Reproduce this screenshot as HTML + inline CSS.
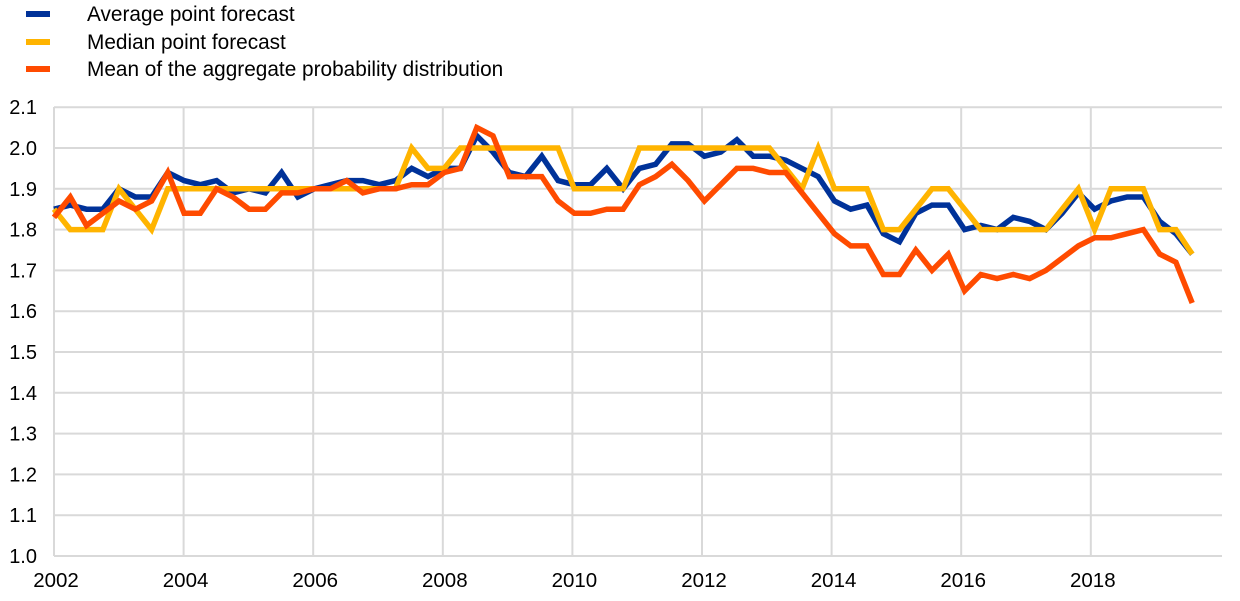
<!DOCTYPE html>
<html><head><meta charset="utf-8"><style>
html,body{margin:0;padding:0;background:#fff;}
svg{display:block;font-family:"Liberation Sans",Arial,sans-serif;}
</style></head><body>
<svg id="c" width="1240" height="601" viewBox="0 0 1240 601" xmlns="http://www.w3.org/2000/svg">
<g id="grid"></g>
<g id="lines" fill="none" stroke-width="5.5" stroke-linejoin="miter" stroke-miterlimit="3"></g>
<g font-size="20.8" fill="#000">
<line x1="26" y1="14" x2="50" y2="14" stroke="#003299" stroke-width="6"/>
<text x="87" y="21">Average point forecast</text>
<line x1="26" y1="42" x2="50" y2="42" stroke="#ffb400" stroke-width="6"/>
<text x="87" y="49">Median point forecast</text>
<line x1="26" y1="69" x2="50" y2="69" stroke="#ff4b00" stroke-width="6"/>
<text x="87" y="76">Mean of the aggregate probability distribution</text>
</g>
</svg>
<script>
var X0=54,DX=16.26,Y0=556,PY=40.8;
function xy(i,v){return (X0+DX*i).toFixed(1)+","+(Y0-(v-1)*10*PY).toFixed(1);}
var g=document.getElementById('grid'),s='';
for(var k=0;k<=11;k++){var y=Y0-k*PY;
 s+='<line x1="54" x2="1222" y1="'+y+'" y2="'+y+'" stroke="#d9d9d9" stroke-width="2"/>';
 s+='<text x="37" y="'+(y+7)+'" font-size="20" text-anchor="end">'+(1+k/10).toFixed(1)+'</text>';}
for(var yr=2002;yr<=2018;yr+=2){var x=54+(yr-2002)*64.8;
 s+='<line x1="'+x+'" x2="'+x+'" y1="107" y2="556" stroke="#d9d9d9" stroke-width="2"/>';
 s+='<text x="'+(x+2)+'" y="587" font-size="20.5" text-anchor="middle">'+yr+'</text>';}
g.innerHTML=s;
var avg=[1.85,1.86,1.85,1.85,1.90,1.88,1.88,1.94,1.92,1.91,1.92,1.89,1.90,1.89,1.94,1.88,1.90,1.91,1.92,1.92,1.91,1.92,1.95,1.93,1.95,1.95,2.03,1.99,1.94,1.93,1.98,1.92,1.91,1.91,1.95,1.90,1.95,1.96,2.01,2.01,1.98,1.99,2.02,1.98,1.98,1.97,1.95,1.93,1.87,1.85,1.86,1.79,1.77,1.84,1.86,1.86,1.80,1.81,1.80,1.83,1.82,1.80,1.84,1.89,1.85,1.87,1.88,1.88,1.82,1.79,1.74];
var med=[1.85,1.80,1.80,1.80,1.90,1.85,1.80,1.90,1.90,1.90,1.90,1.90,1.90,1.90,1.90,1.90,1.90,1.90,1.90,1.90,1.90,1.90,2.00,1.95,1.95,2.00,2.00,2.00,2.00,2.00,2.00,2.00,1.90,1.90,1.90,1.90,2.00,2.00,2.00,2.00,2.00,2.00,2.00,2.00,2.00,1.95,1.90,2.00,1.90,1.90,1.90,1.80,1.80,1.85,1.90,1.90,1.85,1.80,1.80,1.80,1.80,1.80,1.85,1.90,1.80,1.90,1.90,1.90,1.80,1.80,1.74];
var mean=[1.83,1.88,1.81,1.84,1.87,1.85,1.87,1.94,1.84,1.84,1.90,1.88,1.85,1.85,1.89,1.89,1.90,1.90,1.92,1.89,1.90,1.90,1.91,1.91,1.94,1.95,2.05,2.03,1.93,1.93,1.93,1.87,1.84,1.84,1.85,1.85,1.91,1.93,1.96,1.92,1.87,1.91,1.95,1.95,1.94,1.94,1.89,1.84,1.79,1.76,1.76,1.69,1.69,1.75,1.70,1.74,1.65,1.69,1.68,1.69,1.68,1.70,1.73,1.76,1.78,1.78,1.79,1.80,1.74,1.72,1.62];
function pl(d,c){return '<polyline stroke="'+c+'" points="'+d.map(function(v,i){return xy(i,v);}).join(' ')+'"/>';}
document.getElementById('lines').innerHTML=pl(avg,'#003299')+pl(med,'#ffb400')+pl(mean,'#ff4b00');
</script>
</body></html>
